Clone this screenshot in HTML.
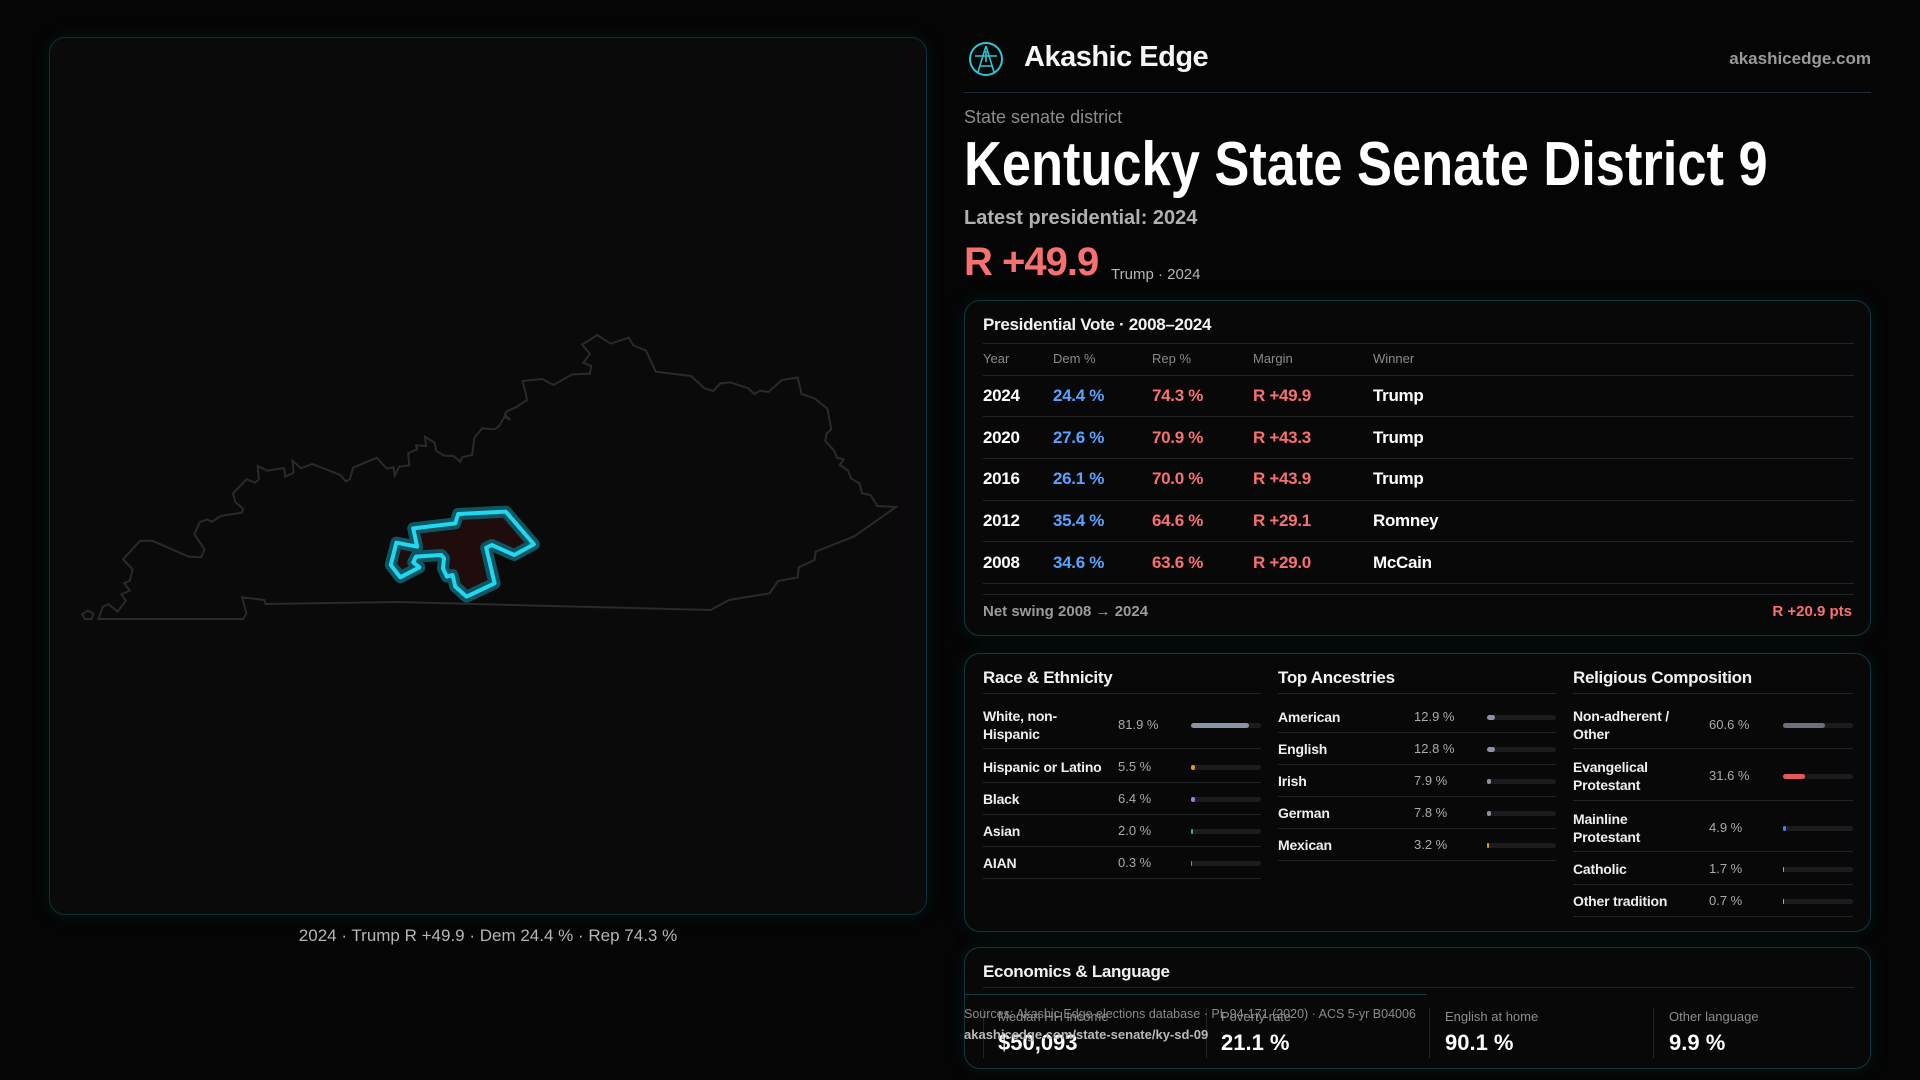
<!DOCTYPE html>
<html><head><meta charset="utf-8"><style>
*{margin:0;padding:0;box-sizing:border-box}
body{width:1920px;height:1080px;background:#050505;font-family:"Liberation Sans",sans-serif;color:#eee;position:relative;overflow:hidden}
.a{position:absolute;white-space:nowrap}
.card{position:absolute;background:#080808;border:1.5px solid #12373d;border-radius:16px;box-shadow:0 0 18px rgba(20,90,100,.18)}
.ln{position:absolute;height:1px;background:#1f2426}
.h{font-size:17px;font-weight:bold;color:#f2f2f2;letter-spacing:-.3px}
.th{font-size:13px;color:#8a8a8a}
.td{font-size:17px;font-weight:bold;letter-spacing:-.3px}
.b{color:#5aa2ff}.r{color:#f87171}
.lab{font-size:14px;font-weight:bold;color:#eee;line-height:18px;letter-spacing:-.2px}
.val{font-size:13px;color:#aaa}
.bar{position:absolute;height:5px;border-radius:3px;background:#1c1c1e}
.bar i{position:absolute;left:0;top:0;height:5px;border-radius:3px}
</style></head><body>

<div class="card" style="left:49px;top:37px;width:878px;height:878px;background:#0b0a0b;border-color:#0f3136"></div>
<svg class="a" style="left:40px;top:320px" width="880" height="320" viewBox="0 0 1568 960" preserveAspectRatio="none">
<path fill="none" stroke="#2a2a2b" stroke-width="2" vector-effect="non-scaling-stroke" d="M104,897 L112,860 122,852 138,875 153,842 145,823 160,812 150,790 160,782 165,748 148,718 178,663 200,662 265,710 287,712 293,688 275,642 285,606 298,598 306,606 322,588 360,578 362,567 348,546 344,520 368,478 383,488 390,478 388,438 405,452 435,444 437,470 452,458 450,422 465,445 485,432 535,465 545,484 552,478 558,443 600,413 618,446 630,442 632,466 640,440 658,436 656,400 672,388 670,376 688,378 686,350 703,368 706,392 720,407 737,408 749,426 752,412 770,405 774,353 788,325 810,328 818,318 828,290 838,300 828,282 832,274 848,262 868,240 860,183 895,177 915,195 948,163 980,161 982,138 968,128 980,102 966,74 993,45 1017,71 1049,53 1057,76 1080,92 1097,155 1160,168 1184,205 1200,213 1212,190 1230,187 1262,205 1273,222 1283,212 1298,216 1322,180 1350,172 1357,222 1380,235 1403,266 1410,328 1402,340 1399,362 1415,392 1420,413 1432,418 1425,435 1440,452 1445,475 1460,490 1465,520 1480,525 1492,558 1525,561 1452,648 1382,695 1380,720 1352,742 1350,772 1315,783 1300,820 1228,840 1195,870 800,853 640,846 402,852 400,840 360,832 368,880 362,897 Z M75,883 L85,872 95,880 92,897 80,897 Z"/>
<path d="M665,625 L740,610 745,582 830,575 880,673 845,705 805,675 795,683 810,790 760,830 740,800 735,765 725,770 718,745 720,715 715,705 670,710 665,727 676,742 642,772 625,735 635,668 672,680 Z" fill="#1f0c0d" stroke="#0e5561" stroke-width="12" vector-effect="non-scaling-stroke" stroke-linejoin="round"/>
<path d="M665,625 L740,610 745,582 830,575 880,673 845,705 805,675 795,683 810,790 760,830 740,800 735,765 725,770 718,745 720,715 715,705 670,710 665,727 676,742 642,772 625,735 635,668 672,680 Z" fill="none" stroke="#22d8f0" stroke-width="4" vector-effect="non-scaling-stroke" stroke-linejoin="round"/>
</svg>
<div class="a" style="left:49px;width:878px;text-align:center;top:926px;font-size:17px;color:#b5b5b5">2024 · Trump R +49.9 · Dem 24.4 % · Rep 74.3 %</div>

<svg class="a" style="left:967px;top:40px" width="38" height="38" viewBox="0 0 38 38"><circle cx="19" cy="19" r="16" fill="none" stroke="#2cc6d6" stroke-width="2"/><path d="M19 6 L11 32 M19 6 L27 32 M8 16 L30 16 M13 26 L25 26 M19 11 L19 22" stroke="#2cc6d6" stroke-width="1.6" fill="none"/></svg>
<div class="a" style="left:1024px;top:41px;font-size:29px;font-weight:bold;color:#f5f5f5;letter-spacing:-.5px">Akashic Edge</div>
<div class="a" style="right:49px;top:49px;font-size:17px;font-weight:bold;color:#9a9a9a">akashicedge.com</div>
<div class="ln" style="left:964px;width:907px;top:92px;background:#163236"></div>
<div class="a" style="left:964px;top:107px;font-size:18px;color:#8c8c8c">State senate district</div>
<div class="a" style="left:964px;top:129px;font-size:62px;font-weight:bold;color:#fff;transform:scaleX(.845);transform-origin:left">Kentucky State Senate District 9</div>
<div class="a" style="left:964px;top:207px;font-size:20px;font-weight:bold;color:#b0b0b0">Latest presidential: 2024</div>
<div class="a" style="left:964px;top:240px;font-size:40px;font-weight:bold;color:#f87171;letter-spacing:-1px">R +49.9</div>
<div class="a" style="left:1111px;top:266px;font-size:15px;color:#b5b5b5">Trump · 2024</div>

<div class="card" style="left:964px;top:300px;width:907px;height:336px"></div>
<div class="a h" style="left:983px;top:315px">Presidential Vote · 2008–2024</div>
<div class="ln" style="left:983px;width:871px;top:343px"></div>
<div class="a th" style="left:983px;top:351px">Year</div><div class="a th" style="left:1053px;top:351px">Dem %</div><div class="a th" style="left:1152px;top:351px">Rep %</div><div class="a th" style="left:1253px;top:351px">Margin</div><div class="a th" style="left:1373px;top:351px">Winner</div>
<div class="ln" style="left:983px;width:871px;top:375px"></div>
<div class="a td" style="left:983px;top:386px;color:#fff">2024</div><div class="a td b" style="left:1053px;top:386px">24.4 %</div><div class="a td r" style="left:1152px;top:386px">74.3 %</div><div class="a td r" style="left:1253px;top:386px">R +49.9</div><div class="a td" style="left:1373px;top:386px;color:#fff">Trump</div>
<div class="ln" style="left:983px;width:871px;top:416px"></div>
<div class="a td" style="left:983px;top:428px;color:#fff">2020</div><div class="a td b" style="left:1053px;top:428px">27.6 %</div><div class="a td r" style="left:1152px;top:428px">70.9 %</div><div class="a td r" style="left:1253px;top:428px">R +43.3</div><div class="a td" style="left:1373px;top:428px;color:#fff">Trump</div>
<div class="ln" style="left:983px;width:871px;top:458px"></div>
<div class="a td" style="left:983px;top:469px;color:#fff">2016</div><div class="a td b" style="left:1053px;top:469px">26.1 %</div><div class="a td r" style="left:1152px;top:469px">70.0 %</div><div class="a td r" style="left:1253px;top:469px">R +43.9</div><div class="a td" style="left:1373px;top:469px;color:#fff">Trump</div>
<div class="ln" style="left:983px;width:871px;top:500px"></div>
<div class="a td" style="left:983px;top:511px;color:#fff">2012</div><div class="a td b" style="left:1053px;top:511px">35.4 %</div><div class="a td r" style="left:1152px;top:511px">64.6 %</div><div class="a td r" style="left:1253px;top:511px">R +29.1</div><div class="a td" style="left:1373px;top:511px;color:#fff">Romney</div>
<div class="ln" style="left:983px;width:871px;top:541px"></div>
<div class="a td" style="left:983px;top:553px;color:#fff">2008</div><div class="a td b" style="left:1053px;top:553px">34.6 %</div><div class="a td r" style="left:1152px;top:553px">63.6 %</div><div class="a td r" style="left:1253px;top:553px">R +29.0</div><div class="a td" style="left:1373px;top:553px;color:#fff">McCain</div>
<div class="ln" style="left:983px;width:871px;top:583px"></div>
<div class="ln" style="left:983px;width:871px;top:594px"></div>
<div class="a" style="left:983px;top:603px;font-size:15px;font-weight:bold;color:#9a9a9a">Net swing 2008 → 2024</div>
<div class="a" style="right:68px;top:603px;font-size:15px;font-weight:bold;color:#f87171">R +20.9 pts</div>

<div class="card" style="left:964px;top:653px;width:907px;height:279px"></div>
<div class="a h" style="left:983px;top:668px">Race &amp; Ethnicity</div>
<div class="a h" style="left:1278px;top:668px">Top Ancestries</div>
<div class="a h" style="left:1573px;top:668px">Religious Composition</div>
<div class="ln" style="left:983px;width:278px;top:693px"></div>
<div class="ln" style="left:1278px;width:278px;top:693px"></div>
<div class="ln" style="left:1573px;width:280px;top:693px"></div>

<div class="a lab" style="left:983px;top:707px">White, non-<br>Hispanic</div><div class="a val" style="left:1118px;top:717px">81.9 %</div><div class="bar" style="left:1191px;width:70px;top:723px"><i style="width:58px;background:#8a94a3"></i></div>
<div class="ln" style="left:983px;width:278px;top:748px"></div>
<div class="a lab" style="left:983px;top:758px">Hispanic or Latino</div><div class="a val" style="left:1118px;top:759px">5.5 %</div><div class="bar" style="left:1191px;width:70px;top:765px"><i style="width:4px;background:#e0962a"></i></div>
<div class="ln" style="left:983px;width:278px;top:782px"></div>
<div class="a lab" style="left:983px;top:790px">Black</div><div class="a val" style="left:1118px;top:791px">6.4 %</div><div class="bar" style="left:1191px;width:70px;top:797px"><i style="width:4px;background:#9b7cf0"></i></div>
<div class="ln" style="left:983px;width:278px;top:814px"></div>
<div class="a lab" style="left:983px;top:822px">Asian</div><div class="a val" style="left:1118px;top:823px">2.0 %</div><div class="bar" style="left:1191px;width:70px;top:829px"><i style="width:2px;background:#2bb89a"></i></div>
<div class="ln" style="left:983px;width:278px;top:846px"></div>
<div class="a lab" style="left:983px;top:854px">AIAN</div><div class="a val" style="left:1118px;top:855px">0.3 %</div><div class="bar" style="left:1191px;width:70px;top:861px"><i style="width:1px;background:#c87a30"></i></div>
<div class="ln" style="left:983px;width:278px;top:878px"></div>

<div class="a lab" style="left:1278px;top:708px">American</div><div class="a val" style="left:1414px;top:709px">12.9 %</div><div class="bar" style="left:1487px;width:69px;top:715px"><i style="width:8px;background:#8a94a3"></i></div>
<div class="ln" style="left:1278px;width:278px;top:732px"></div>
<div class="a lab" style="left:1278px;top:740px">English</div><div class="a val" style="left:1414px;top:741px">12.8 %</div><div class="bar" style="left:1487px;width:69px;top:747px"><i style="width:8px;background:#8a94a3"></i></div>
<div class="ln" style="left:1278px;width:278px;top:764px"></div>
<div class="a lab" style="left:1278px;top:772px">Irish</div><div class="a val" style="left:1414px;top:773px">7.9 %</div><div class="bar" style="left:1487px;width:69px;top:779px"><i style="width:4px;background:#8a94a3"></i></div>
<div class="ln" style="left:1278px;width:278px;top:796px"></div>
<div class="a lab" style="left:1278px;top:804px">German</div><div class="a val" style="left:1414px;top:805px">7.8 %</div><div class="bar" style="left:1487px;width:69px;top:811px"><i style="width:4px;background:#8a94a3"></i></div>
<div class="ln" style="left:1278px;width:278px;top:828px"></div>
<div class="a lab" style="left:1278px;top:836px">Mexican</div><div class="a val" style="left:1414px;top:837px">3.2 %</div><div class="bar" style="left:1487px;width:69px;top:843px"><i style="width:2px;background:#e0962a"></i></div>
<div class="ln" style="left:1278px;width:278px;top:860px"></div>

<div class="a lab" style="left:1573px;top:707px">Non-adherent /<br>Other</div><div class="a val" style="left:1709px;top:717px">60.6 %</div><div class="bar" style="left:1783px;width:70px;top:723px"><i style="width:42px;background:#6b717c"></i></div>
<div class="ln" style="left:1573px;width:280px;top:748px"></div>
<div class="a lab" style="left:1573px;top:758px">Evangelical<br>Protestant</div><div class="a val" style="left:1709px;top:768px">31.6 %</div><div class="bar" style="left:1783px;width:70px;top:774px"><i style="width:22px;background:#e05a5a"></i></div>
<div class="ln" style="left:1573px;width:280px;top:800px"></div>
<div class="a lab" style="left:1573px;top:810px">Mainline<br>Protestant</div><div class="a val" style="left:1709px;top:820px">4.9 %</div><div class="bar" style="left:1783px;width:70px;top:826px"><i style="width:3px;background:#3b82f6"></i></div>
<div class="ln" style="left:1573px;width:280px;top:851px"></div>
<div class="a lab" style="left:1573px;top:860px">Catholic</div><div class="a val" style="left:1709px;top:861px">1.7 %</div><div class="bar" style="left:1783px;width:70px;top:867px"><i style="width:1px;background:#e0962a"></i></div>
<div class="ln" style="left:1573px;width:280px;top:884px"></div>
<div class="a lab" style="left:1573px;top:892px">Other tradition</div><div class="a val" style="left:1709px;top:893px">0.7 %</div><div class="bar" style="left:1783px;width:70px;top:899px"><i style="width:1px;background:#aaa"></i></div>
<div class="ln" style="left:1573px;width:280px;top:916px"></div>

<div class="card" style="left:964px;top:947px;width:907px;height:122px"></div>
<div class="a h" style="left:983px;top:962px">Economics &amp; Language</div>
<div class="ln" style="left:983px;width:871px;top:987px"></div>
<div class="ln" style="left:964px;width:463px;top:994px;background:#163a40"></div>
<div class="a" style="left:983px;top:1008px;width:1px;height:50px;background:#1f2426"></div>
<div class="a" style="left:1206px;top:1008px;width:1px;height:50px;background:#1f2426"></div>
<div class="a" style="left:1429px;top:1008px;width:1px;height:50px;background:#1f2426"></div>
<div class="a" style="left:1653px;top:1008px;width:1px;height:50px;background:#1f2426"></div>
<div class="a" style="left:998px;top:1009px;font-size:13px;color:#8c8c8c">Median HH income</div>
<div class="a" style="left:1221px;top:1009px;font-size:13px;color:#8c8c8c">Poverty rate</div>
<div class="a" style="left:1445px;top:1009px;font-size:13px;color:#8c8c8c">English at home</div>
<div class="a" style="left:1669px;top:1009px;font-size:13px;color:#8c8c8c">Other language</div>
<div class="a" style="left:998px;top:1030px;font-size:22px;font-weight:bold;color:#fff">$50,093</div>
<div class="a" style="left:1221px;top:1030px;font-size:22px;font-weight:bold;color:#fff">21.1 %</div>
<div class="a" style="left:1445px;top:1030px;font-size:22px;font-weight:bold;color:#fff">90.1 %</div>
<div class="a" style="left:1669px;top:1030px;font-size:22px;font-weight:bold;color:#fff">9.9 %</div>
<div class="a" style="left:964px;top:1007px;font-size:12.5px;color:#8a8a8a">Sources: Akashic Edge elections database · PL 94-171 (2020) · ACS 5-yr B04006</div>
<div class="a" style="left:964px;top:1027px;font-size:13px;font-weight:bold;color:#b8b8b8">akashicedge.com/state-senate/ky-sd-09</div>
</body></html>
